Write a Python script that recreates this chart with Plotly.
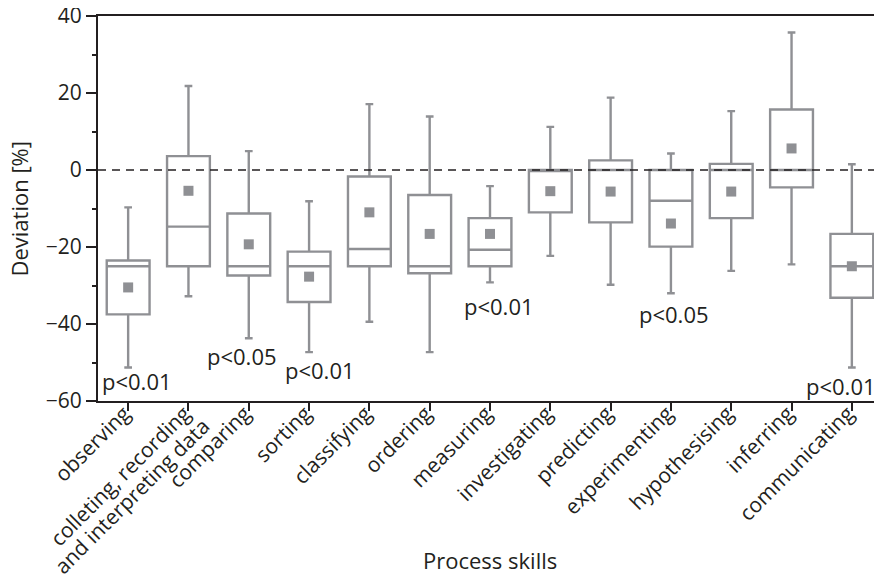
import plotly.graph_objects as go

categories = ["observing", "colleting, recording", "comparing", "sorting",
              "classifying", "ordering", "measuring", "investigating", "predicting",
              "experimenting", "hypothesising", "inferring", "communicating"]
category_second_line = "and interpreting data"
upper = [-9.7, 21.8, 4.9, -8.1, 17.1, 13.9, -4.2, 11.2, 18.8, 4.3, 15.3, 35.7, 1.5]
q3 = [-23.5, 3.6, -11.3, -21.2, -1.7, -6.5, -12.5, 0.0, 2.5, 0.0, 1.6, 15.7, -16.6]
median = [-25.0, -14.7, -25.0, -25.0, -20.5, -25.0, -20.7, 0.0, 0.0, -8.0, 0.0, 0.0, -25.0]
q1 = [-37.5, -25.0, -27.4, -34.3, -25.0, -26.8, -25.0, -11.0, -13.6, -19.9, -12.5, -4.5, -33.2]
lower = [-51.3, -32.8, -43.7, -47.3, -39.4, -47.3, -29.2, -22.3, -29.8, -32.0, -26.2, -24.5, -51.3]
mean = [-30.5, -5.4, -19.3, -27.7, -11.0, -16.6, -16.6, -5.5, -5.6, -13.9, -5.6, 5.6, -25.0]

sig_text = ["p<0.01", "p<0.05", "p<0.01", "p<0.01", "p<0.05", "p<0.01"]
sig_x = [0.15, 1.89, 3.18, 6.15, 9.05, 11.82]
sig_y = [-54.8, -48.2, -52.0, -35.3, -37.5, -56.0]

GREY = "#8f9094"
DARK = "#231f20"
FONT = "Open Sans"
FS = 22
XFS = 21

xi = list(range(len(categories)))

fig = go.Figure()
fig.add_trace(go.Box(
    x=xi, q1=q1, median=median, q3=q3, lowerfence=lower, upperfence=upper,
    width=0.71, whiskerwidth=0.18,
    line=dict(color=GREY, width=2.4), fillcolor="rgba(255,255,255,0)",
    boxpoints=False, showlegend=False, hoverinfo="skip"))
fig.add_trace(go.Scatter(
    x=xi, y=mean, mode="markers",
    marker=dict(symbol="square", size=10, color=GREY, line=dict(width=0)),
    showlegend=False, hoverinfo="skip"))

fig.add_shape(type="line", xref="paper", yref="y", x0=0, x1=1, y0=0, y1=0,
              line=dict(color=DARK, width=1.6, dash="8px,6px"), layer="above")

for t, x, y in zip(sig_text, sig_x, sig_y):
    fig.add_annotation(x=x, y=y, xref="x", yref="y", text=t, showarrow=False,
                       font=dict(family=FONT, size=FS, color=DARK))

# second line of the 2nd category label
fig.add_annotation(x=0.043, y=-0.248, xref="paper", yref="paper", text=category_second_line,
                   textangle=-45, showarrow=False, xanchor="center", yanchor="middle",
                   font=dict(family=FONT, size=XFS, color=DARK))

fig.add_annotation(x=0.5, y=-0.413, xref="paper", yref="paper", text="Process skills",
                   showarrow=False, xanchor="center", yanchor="middle",
                   font=dict(family=FONT, size=FS, color=DARK))
fig.add_annotation(x=-0.102, y=0.5, xref="paper", yref="paper", text="Deviation [%]",
                   textangle=-90, showarrow=False, xanchor="center", yanchor="middle",
                   font=dict(family=FONT, size=FS, color=DARK))

fig.update_layout(
    width=874, height=568,
    margin=dict(l=90, r=0, t=8, b=175, autoexpand=False),
    paper_bgcolor="white", plot_bgcolor="white",
    font=dict(family=FONT, size=FS, color=DARK),
    xaxis=dict(range=[-0.5, 12.5], tickmode="array", tickvals=xi, ticktext=categories,
               tickangle=-45, showgrid=False, zeroline=False, automargin=False,
               showline=True, linecolor=DARK, linewidth=2, mirror=True,
               ticks="outside", ticklen=8, tickwidth=1.5, tickcolor=DARK,
               ticklabeloverflow="allow", ticklabelstandoff=-18, ticklabelshift=-4,
               tickfont=dict(family=FONT, size=XFS, color=DARK)),
    yaxis=dict(range=[-60, 40], dtick=20, showgrid=False, zeroline=False, automargin=False,
               showline=True, linecolor=DARK, linewidth=2,
               ticks="outside", ticklen=10, tickwidth=1.5, tickcolor=DARK,
               ticklabeloverflow="allow",
               minor=dict(dtick=10, ticks="outside", ticklen=4, tickwidth=1.5, tickcolor=DARK),
               tickfont=dict(family=FONT, size=21, color=DARK)),
)

fig.write_html("out.html")
